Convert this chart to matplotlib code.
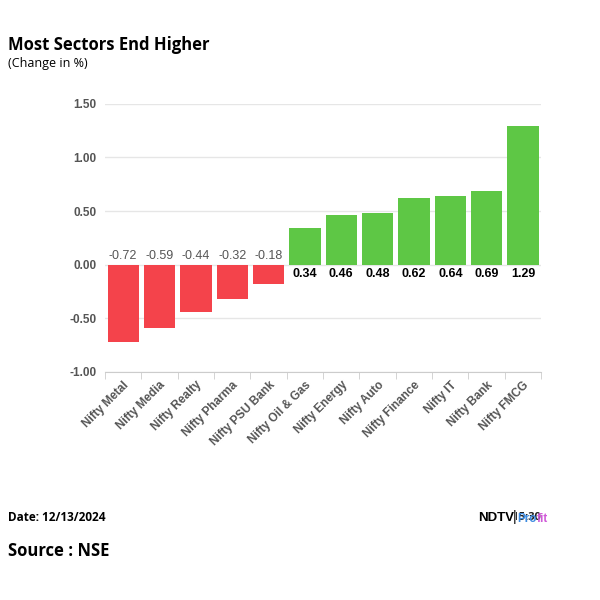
import matplotlib
matplotlib.use("Agg")
import matplotlib.pyplot as plt
import numpy as np

categories = ["Nifty Metal", "Nifty Media", "Nifty Realty", "Nifty Pharma", "Nifty PSU Bank",
              "Nifty Oil & Gas", "Nifty Energy", "Nifty Auto", "Nifty Finance", "Nifty IT",
              "Nifty Bank", "Nifty FMCG"]
values = [-0.72, -0.59, -0.44, -0.32, -0.18, 0.34, 0.46, 0.48, 0.62, 0.64, 0.69, 1.29]
yticks = [-1.00, -0.50, 0.00, 0.50, 1.00, 1.50]

RED = "#F4434B"
GREEN = "#5EC745"

fig = plt.figure(figsize=(6, 6), dpi=100)
ax = fig.add_axes([0.175, 0.38, 0.727, 0.447])
x = np.arange(len(categories))
colors = [RED if v < 0 else GREEN for v in values]
ax.bar(x, values, width=0.86, color=colors, zorder=3)
ax.set_xlim(-0.5, len(categories) - 0.5)
ax.set_ylim(-1.0, 1.5)
ax.set_yticks(yticks)
ax.set_yticklabels([f"{t:.2f}" for t in yticks], fontsize=8.5, fontweight="bold",
                   color="#555555", family="Liberation Sans")
ax.grid(axis="y", color="#e6e6e6", linewidth=1, zorder=0)
ax.tick_params(axis="y", length=0, pad=6)
for s in ["top", "right", "left"]:
    ax.spines[s].set_visible(False)
ax.spines["bottom"].set_color("#cccccc")
ax.set_xticks(x)
ax.set_xticklabels(categories, rotation=45, ha="right", rotation_mode="anchor",
                   fontsize=8.5, fontweight="bold", color="#555555", family="Liberation Sans")
ax.tick_params(axis="x", length=0, pad=5)
ax.set_xticks(np.arange(-0.5, len(categories) + 0.5, 1), minor=True)
ax.tick_params(axis="x", which="minor", length=5, color="#cccccc")

for xi, v in zip(x, values):
    if v < 0:
        ax.text(xi, 0.03, f"{v:.2f}", ha="center", va="bottom", fontsize=9,
                color="#555555", family="Liberation Sans")
    else:
        ax.text(xi, -0.03, f"{v:.2f}", ha="center", va="top", fontsize=9,
                color="black", fontweight="bold", family="Liberation Sans")

fig.text(0.013, 0.925, "Most Sectors End Higher", fontsize=12, fontweight="bold",
         family="Open Sans", va="center", ha="left")
fig.text(0.013, 0.895, "(Change in %)", fontsize=9, family="Open Sans", va="center", ha="left")
fig.text(0.013, 0.137, "Date: 12/13/2024", fontsize=8.5, fontweight="bold",
         family="Open Sans", va="center", ha="left")
fig.text(0.013, 0.081, "Source : NSE", fontsize=12, fontweight="bold",
         family="Open Sans", va="center", ha="left")
# time stamp (mostly hidden under the logo, as in the reference)
fig.text(0.902, 0.138, "Time: 15:30", fontsize=8, fontweight="bold", family="Open Sans",
         va="center", ha="right", color="#222222", zorder=1)
# logo
fig.text(0.797, 0.137, "NDTV", fontsize=9.5, fontweight="heavy", family="Liberation Sans",
         va="center", ha="left", color="black", zorder=2,
         bbox=dict(facecolor="white", edgecolor="none", pad=1.5))
fig.text(0.855, 0.138, "|", fontsize=10, family="Liberation Sans", va="center", ha="left", zorder=3)
fig.text(0.862, 0.135, "Pro", fontsize=8.5, fontweight="bold", family="Liberation Sans",
         va="center", ha="left", color="#3d8be0", zorder=3)
fig.text(0.862 + 0.033, 0.135, "fit", fontsize=8.5, fontweight="bold", family="Liberation Sans",
         va="center", ha="left", color="#d05ad8", zorder=3)

fig.savefig("out.png", dpi=100, facecolor="white")
